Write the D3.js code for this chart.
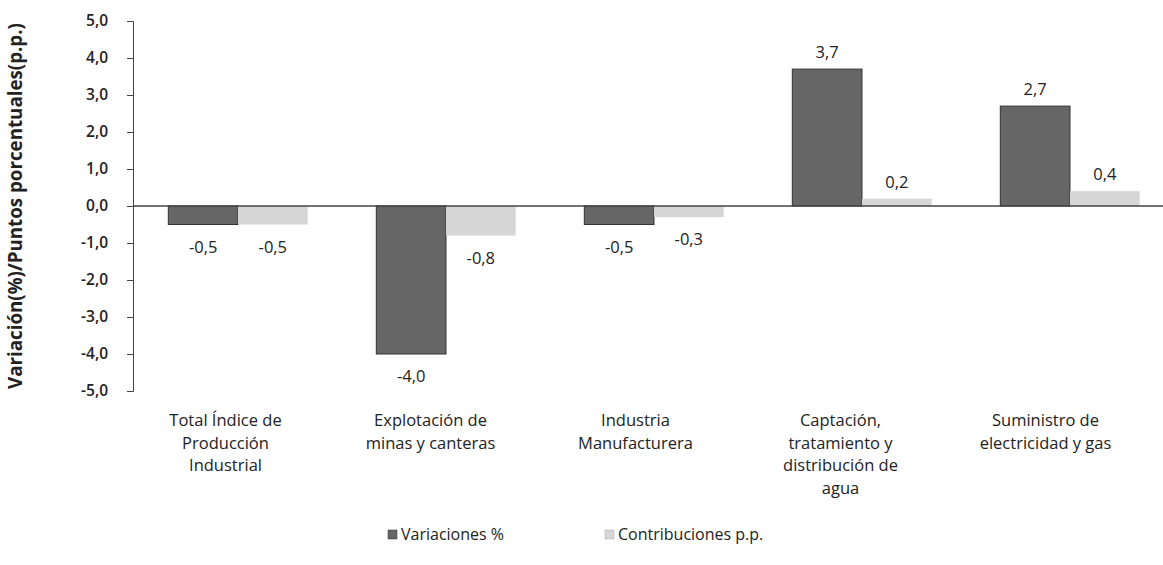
<!DOCTYPE html>
<html><head><meta charset="utf-8">
<script src="https://cdn.jsdelivr.net/npm/d3@7"></script>
<style>body{margin:0;background:#fff;} text{font-family:"Open Sans",sans-serif;}</style>
</head><body>
<svg id="c" width="1163" height="565"></svg>
<script>
const categories = [
  ["Total Índice de","Producción","Industrial"],
  ["Explotación de","minas y canteras"],
  ["Industria","Manufacturera"],
  ["Captación,","tratamiento y","distribución de","agua"],
  ["Suministro de","electricidad y gas"]
];
const variaciones = [-0.5, -4.0, -0.5, 3.7, 2.7];
const contribuciones = [-0.5, -0.8, -0.3, 0.2, 0.4];
const yTicks = [5,4,3,2,1,0,-1,-2,-3,-4,-5];
const seriesNames = ["Variaciones %","Contribuciones p.p."];
const colors = ["#666666","#d6d6d6"];

const svg = d3.select("#c");
const x0 = d3.scaleBand().domain(d3.range(categories.length)).range([134,1174]).paddingInner(0.33).paddingOuter(0.165);
const xl = d3.scaleBand().domain(d3.range(categories.length)).range([123,1148]);
const x1 = d3.scaleBand().domain([0,1]).range([0,x0.bandwidth()]);
const y = d3.scaleLinear().domain([-5,5]).range([391,21]);
const fmt = v => d3.format(".1f")(v).replace(".",",").replace("−","-");

// y axis
const ya = svg.append("g").attr("transform","translate(133,0)")
  .call(d3.axisLeft(y).tickValues(yTicks).tickSize(6).tickPadding(19).tickFormat(fmt));
ya.select(".domain").attr("stroke","#444");
ya.selectAll(".tick line").attr("stroke","#444");
ya.selectAll("text").attr("font-size",15.5).attr("font-weight",600).attr("fill","#222");

const title = svg.append("text").attr("transform","translate(22,206) rotate(-90)")
  .attr("text-anchor","middle").attr("font-size",17).attr("font-weight",700).attr("fill","#222")
  .text("Variación(%)/Puntos porcentuales(p.p.)");
const tl = title.node().getComputedTextLength();
title.attr("font-size", 17*366/tl);

const data = categories.map((c,i)=>[variaciones[i],contribuciones[i]]);
const g = svg.append("g");
data.forEach((d,i)=>{
  d.forEach((v,s)=>{
    const bx = x0(i)+x1(s);
    g.append("rect").attr("x",bx).attr("width",x1.bandwidth())
      .attr("y",y(Math.max(0,v))).attr("height",Math.abs(y(v)-y(0)))
      .attr("fill",colors[s]).attr("stroke",s===0?"#333":"none").attr("stroke-width",1);
    g.append("text").attr("x",bx+x1.bandwidth()/2)
      .attr("y", v>=0 ? y(v)-11 : y(v)+28)
      .attr("text-anchor","middle").attr("font-size",16.5).attr("fill","#222").text(fmt(v));
  });
});
// zero line
svg.append("line").attr("x1",133).attr("x2",1163).attr("y1",y(0)).attr("y2",y(0)).attr("stroke","#444").attr("stroke-width",1.5);

// category labels
categories.forEach((lines,i)=>{
  const t = svg.append("text").attr("text-anchor","middle").attr("font-size",16.5).attr("fill","#222");
  lines.forEach((l,j)=>t.append("tspan").attr("x",xl(i)+xl.bandwidth()/2).attr("y",426+j*22.5).text(l));
});

// legend
const lx = [388, 605];
seriesNames.forEach((n,s)=>{
  svg.append("rect").attr("x",lx[s]).attr("y",530).attr("width",9).attr("height",9).attr("fill",colors[s]).attr("stroke",s===0?"#333":"#aaa").attr("stroke-width",0.5);
  svg.append("text").attr("x",lx[s]+13).attr("y",540).attr("font-size",16).attr("fill","#222").text(n);
});
</script>
</body></html>
